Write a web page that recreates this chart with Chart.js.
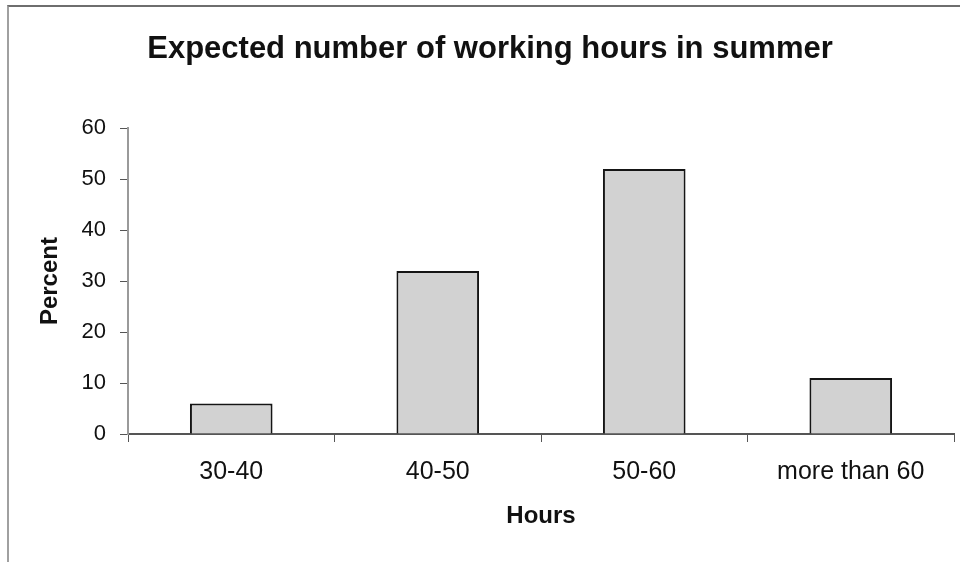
<!DOCTYPE html>
<html>
<head>
<meta charset="utf-8">
<title>Expected number of working hours in summer</title>
<script src="https://cdn.jsdelivr.net/npm/chart.js@4"></script>
<style>
  html, body { margin: 0; padding: 0; background: #fff; }
  #wrap { position: relative; width: 960px; height: 562px; }
  #frame { position: absolute; left: 7px; top: 5px; right: 0; bottom: 0;
           border-top: 2px solid #6e6e6e; border-left: 2px solid #a0a0a0; pointer-events: none; }
  canvas { position: absolute; left: 0; top: 0; }
</style>
</head>
<body>
<div id="wrap">
  <canvas id="chart" width="960" height="562"></canvas>
  <div id="frame"></div>
</div>
<script>
const categories = ['30-40', '40-50', '50-60', 'more than 60'];
const percentValues = [6, 32, 52, 11];
const yTicks = [0, 10, 20, 30, 40, 50, 60];

const FONT = "'Liberation Sans', Arial, sans-serif";

new Chart(document.getElementById('chart'), {
    type: 'bar',
    data: {
        labels: categories,
        datasets: [{
            label: 'Percent',
            data: percentValues,
            backgroundColor: '#d2d2d2',
            borderColor: '#151515',
            borderWidth: 2,
            borderSkipped: 'bottom',
            barPercentage: 0.4,
            categoryPercentage: 1
        }]
    },
    options: {
        responsive: false,
        animation: false,
        devicePixelRatio: 1,
        layout: { padding: { left: 26, right: 6, top: 0, bottom: 0 } },
        plugins: {
            legend: { display: false },
            tooltip: { enabled: false },
            title: {
                display: true,
                text: 'Expected number of working hours in summer',
                color: '#111',
                font: { family: FONT, size: 31, weight: 'bold' },
                padding: { top: 31, bottom: 60 }
            }
        },
        scales: {
            x: {
                grid: { drawOnChartArea: false, drawTicks: true, tickLength: 8, color: '#555', offset: true },
                border: { display: true, color: '#555', width: 2 },
                ticks: { color: '#111', padding: 15, maxRotation: 0, font: { family: FONT, size: 25 } },
                title: { display: true, text: 'Hours', color: '#111', padding: { top: 0, bottom: 31 },
                         font: { family: FONT, size: 24, weight: 'bold' } },
                afterFit: s => { s.height = 128; }
            },
            y: {
                min: 0,
                max: 60,
                afterBuildTicks: s => { s.ticks = yTicks.map(v => ({ value: v })); },
                grid: { drawOnChartArea: false, drawTicks: true, tickLength: 8, color: '#555' },
                border: { display: true, color: '#9a9a9a', width: 2 },
                ticks: { color: '#111', padding: 14, font: { family: FONT, size: 22 } },
                title: { display: true, text: 'Percent', color: '#111', padding: { top: 10, bottom: 0 },
                         font: { family: FONT, size: 24, weight: 'bold' } },
                afterFit: s => { s.width = 102; }
            }
        }
    }
});
</script>
</body>
</html>
